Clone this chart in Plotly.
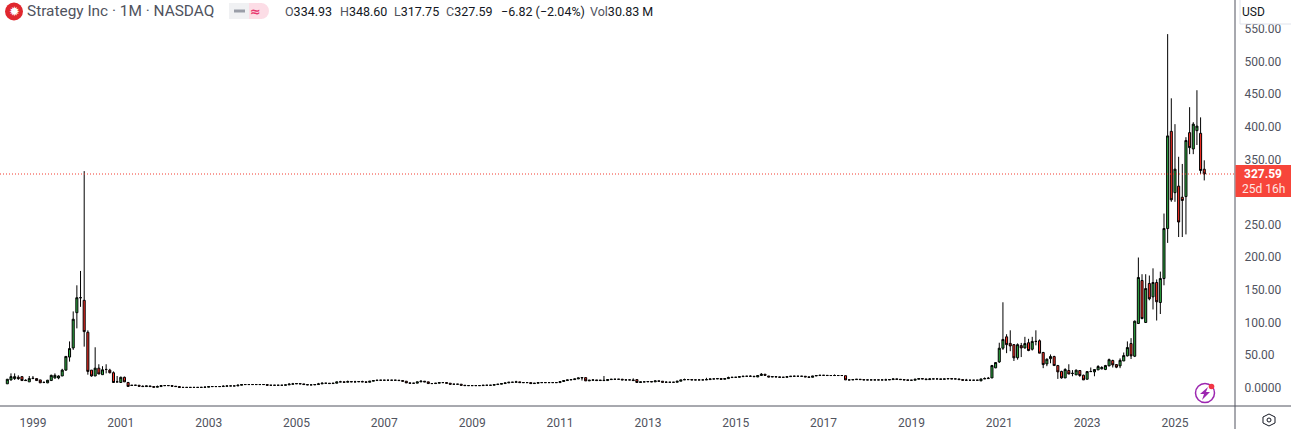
import plotly.graph_objects as go

# Monthly bars, Jun 1998 = index 0 ... Sep 2025 = index 327
start_open = [6,12,14,16,17,11.5,9,14,14,12,8,7.5,11,15,15,18,27,47,61,115,138,134,85,27,18,30,20,28,27,23,9,8,16,8]
start_close = [13,17,17,14,11,11,14,14.5,11,7.5,8,11.5,19,19,18,27,48,60,105,138,138,86,25,18,30,21,27.5,28,23,8,9,16,9,2]
start_high = [13.5,22,22,19,17,13,18,18,14,12,10,12,20,22,19,29,48,71,117,157,179,332,88,27,62,36,33,36,29,25,18,17,17,9]
start_low = [6,11,12,12,11,10.5,9,14,11,7.5,7,7,11,14,13,18,26,40,58,91,124,63,20,17,18,21,20,22,22,8,8.5,8,9,2]

flat_close_a = [3.8,3.8,2.3,1.8,2.8,1.8,0.8,1.8,3.3,3.3,3.3,2.3,1.8,0.5,0.5,0.5,0.5,0.5,0.5,0.6,0.8,1.8,1.8,1.8,1.8,2.3,2.8,2.8,2.8,3.8,4.9,4.9,4.9,4.9,4.9,4.9,4.9,3.8,3.8,3.8,3.8,3.8,4.4,5.4,5.9,6.4,5.9,4.9,4.4,4.4,4.9,5.9,6.9,6.9,6.4,6.9,9,9,8.4,9.5,9,9,9.5,9,8.4,10,11,11.5,11.5,11.5,11.5,11.5,11.5,11,10,7.4,6.9,6.9,9]
flat_open_a = [3.4,3.8,3.8,2.3,1.8,2.8,1.8,0.8,1.8,3.3,3.3,3.3,2.3,1.8,0.5,0.5,0.5,0.5,0.5,0.5,0.6,0.8,1.8,1.8,1.8,1.8,2.3,2.8,2.8,2.8,3.8,4.9,4.9,4.9,4.9,4.9,4.9,4.9,3.8,3.8,3.8,3.8,3.8,4.4,5.4,5.9,6.4,5.9,4.9,4.4,4.4,4.9,5.9,6.9,6.9,6.4,6.9,9,9,8.4,9.5,9,9,9.5,9,8.4,10,11,11.5,11.5,11.5,11.5,11.5,11.5,11,10,7.4,6.9,7]
flat_close_b = [10,9,6.4,6.4,6.9,7.9,7.9,6.9,5.4,5.4,5.4,3.8,3.3,3.3,3.3,3.3,3.3,3.8,3.8,3.8,4.9,5.4,6.4,7.4,8.4,8.4,9,7.9,7.9,7.9,6.4,6.9,7.9,7.9,7.9,7.9,7.9,7.9,9.5,11,12,12.5,13.5,15,15.6,10.5,11.5,12,11,11.5,11,12.5,13,13,13,12,12,12,11,8,9,9,9.5,9,10.5,10,8.4,8.4,8.4,8.4,10,12,12.5,12.5,12,12,12,12,12.5,13.5,13.5,14]
flat_open_b = [9,10,9,6.4,6.4,6.9,7.9,7.9,6.9,5.4,5.4,5.4,3.8,3.3,3.3,3.3,3.3,3.3,3.8,3.8,3.8,4.9,5.4,6.4,7.4,8.4,8.4,9,7.9,7.9,7.9,6.4,6.9,7.9,7.9,7.9,7.9,7.9,7.9,9.5,11,12,12.5,13.5,15,15.5,10.5,11.5,12,11,11.5,11,12.5,13,13,13,12,12,12,12.5,8,9,9,9.5,9,10.5,10,8.4,8.4,8.4,8.4,10,12,12.5,12.5,12,12,12,12,12.5,13.5,13.5]
flat_close_c = [13,14,15.6,16,16,17,17.6,17.6,17.6,17,18.7,20.7,19,16.5,17,16.6,16,16,17,17.6,17.6,17.6,17.6,16.6,16,18,18.7,19,19,18.7,18.7,18.7,18.7,18.7,12,12,12.5,13,12.5,12,12,12,12,12,12,12,12.5,13.5,13,12.5,12,11.5,11.5,13,14,13.5,12.5,13.5,13.5,13.5,13,13.5,14,13.5,13.5,12.5,11.5,11.5,11.5,11.5,11.5,13.5,14,14.5]
flat_open_c = [14,13,14,15.6,16,16,17,17.6,17.6,17.6,16.5,18.7,20.7,18,16.5,17,16.6,16,16,17,17.6,17.6,17.6,17.6,16.6,16,18,18.7,19,19,18.7,18.7,18.7,18.7,18.5,12,12,12.5,13,12.5,12,12,12,12,12,12,12,12.5,13.5,13,12.5,12,11.5,11.5,13,14,13.5,12.5,13.5,13.5,13.5,13,13.5,14,13.5,13.5,12.5,11.5,11.5,11.5,11.5,10.5,13.5,14]
# small wicks that stand out of the flat stretch: month index -> high
flat_wick_tops = {37:3.6,41:3.4,54:2.2,59:3.6,63:5.2,77:7,78:7.4,85:7.4,86:8.2,91:10.6,93:11,95:10.6,97:10.8,
                  113:11.4,121:7,139:10.6,157:11,163:18,166:13.4,168:13.6,171:14.4,180:10,185:14,191:15.2,
                  197:17,203:19,206:22.5,207:21,215:18.5,222:20,226:20.4,240:13.8,252:14.6,262:13.6,267:15.8,268:16.5}

end_open = [15,30.5,39.6,60.6,78,68,66,46,64.6,61,69,59,71,72,54,36.5,44.5,47.8,34,25,15,26.4,22,19.7,26.4,19.2,13,24.8,24.3,27.4,29,28,33.5,41.7,35.5,33.5,41,48.8,67.7,48.3,98.4,164.4,100,159.8,139.3,161.3,130.6,167.4,244,393,299,309,292,293,391,366,394,390,334.93]
end_close = [34,38.6,60.6,74,66,64,45.8,66,61,67.7,57,71,71,53,35.5,43.7,47.8,34,24.3,15,28,21,22,26.9,18.7,12,24.8,24.8,27.9,32.5,31,34,43,35,31.5,42,49.3,61.6,48.8,102,169,106,152,136.3,161.3,131.7,167.4,244,386,288,335,254,287,379,368,404,401,333,327.59]
end_high = [35,39,69,131,82,88,67,68,68.7,78,75,78,88,74,55,45,51,49,35,26,29.9,36,27,28,26.9,20,25,31,28,34.6,33,35,44.7,43,36,45,54,71,76,103,199.6,174,174,172,183,166,178,267,542,443.6,404,354,343,384,430,407,456,414.4,348.6]
end_low = [15,30,38,58,53,56,41,43,47,60,56,57,65,53,30,33,37.5,34,13.5,14,15,21,17.6,19.7,16.7,12,13,24.3,17.6,27,28,27,33,31,30,30,41,48,44,47,98,105,100,134,120,103,113,157,222,285,285,231,231,235,358,358,372,327.5,317.75]

year_labels = ["1999","2001","2003","2005","2007","2009","2011","2013","2015","2017","2019","2021","2023","2025"]
year_positions = [7,31,55,79,103,127,151,175,199,223,247,271,295,319]
price_ticks = [0,50,100,150,200,250,350,400,450,500,550]
price_labels = ["0.0000","50.00","100.00","150.00","200.00","250.00","350.00","400.00","450.00","500.00","550.00"]
last_close = 327.59

flat_open = flat_open_a + flat_open_b + flat_open_c
flat_close = flat_close_a + flat_close_b + flat_close_c
assert len(flat_open) == len(flat_close) == 235, (len(flat_open_a), len(flat_close_a), len(flat_open_b), len(flat_close_b), len(flat_open_c), len(flat_close_c))
flat_high = [max(o, c) for o, c in zip(flat_open, flat_close)]
flat_low = [min(o, c) for o, c in zip(flat_open, flat_close)]
for idx, top in flat_wick_tops.items():
    flat_high[idx - 34] = top

opens = start_open + flat_open + end_open
closes = start_close + flat_close + end_close
highs = start_high + flat_high + end_high
lows = start_low + flat_low + end_low
assert len(opens) == len(closes) == len(highs) == len(lows) == 328, (len(opens), len(closes), len(highs), len(lows))
months = list(range(len(opens)))

GREEN, RED, INK, GREY = "#2fae44", "#fb2f25", "#131722", "#50535e"
PLOT_W, PLOT_H = 1235, 406


def px(x):
    return x / PLOT_W


def py(y):
    return 1 - y / PLOT_H


def box(x0, y0, x1, y1, **kw):
    return dict(type="rect", xref="paper", yref="paper", x0=px(x0), x1=px(x1), y0=py(y1), y1=py(y0), **kw)


def circle(cx, cy, r, **kw):
    return dict(type="circle", xref="paper", yref="paper", x0=px(cx - r), x1=px(cx + r), y0=py(cy + r), y1=py(cy - r), **kw)


def poly(points, **kw):
    d = "M" + " L".join(f"{px(a):.5f},{py(b):.5f}" for a, b in points) + " Z"
    return dict(type="path", xref="paper", yref="paper", path=d, **kw)


def label(x, y, text, size=12, color=INK, anchor="left", font="Roboto"):
    return dict(xref="paper", yref="paper", x=px(x), y=py(y), text=text, showarrow=False, xanchor=anchor,
                yanchor="middle", font=dict(family=font, size=size, color=color), borderpad=0, borderwidth=0)


fig = go.Figure(go.Candlestick(
    x=months, open=opens, high=highs, low=lows, close=closes,
    increasing=dict(line=dict(color="#000000", width=1), fillcolor=GREEN),
    decreasing=dict(line=dict(color="#000000", width=1), fillcolor=RED),
    whiskerwidth=0, hoverinfo="skip", showlegend=False,
))

no_line = dict(width=0)
shapes = [
    dict(type="line", xref="paper", yref="y", x0=0, x1=1, y0=last_close, y1=last_close,
         line=dict(color="#f23b2f", width=1, dash="1px,2px")),
    dict(type="line", xref="paper", yref="paper", x0=1, x1=1, y0=py(429), y1=1, line=dict(color=GREY, width=1)),
    dict(type="line", xref="paper", yref="paper", x0=0, x1=px(1291), y0=0, y1=0, line=dict(color=GREY, width=1)),
    box(1235.5, 165, 1291, 197, fillcolor="#f7453a", line=no_line),
    box(1240, -2, 1293, 24, fillcolor="#ffffff", line=dict(color="#e0e3eb", width=1)),
    circle(14, 11.5, 9, fillcolor="#e0272e", line=no_line),
    box(229, 3, 249, 19, fillcolor="#f0f1f3", line=no_line),
    circle(237, 11, 8, fillcolor="#f0f1f3", line=no_line),
    box(249, 3, 262, 19, fillcolor="#fcdde6", line=no_line),
    circle(261, 11, 8, fillcolor="#fcdde6", line=no_line),
    box(234, 9.5, 245, 12.5, fillcolor="#9a9ea8", line=no_line),
    circle(1205, 393, 9.5, fillcolor="rgba(0,0,0,0)", line=dict(color="#9c27b0", width=1.5)),
    circle(1211.5, 386.5, 2.8, fillcolor="#f23645", line=no_line),
    poly([(1208, 387), (1200, 394), (1204, 394), (1202, 400), (1210, 392), (1206, 392)], fillcolor="#9c27b0", line=no_line),
    poly([(1269, 414), (1275, 417), (1275, 423), (1269, 426), (1263, 423), (1263, 417)], fillcolor="rgba(0,0,0,0)", line=dict(color=INK, width=1)),
    circle(1269, 420, 2, fillcolor="rgba(0,0,0,0)", line=dict(color=INK, width=1)),
]

def ohl(tag, value):
    return f'<span style="color:{GREY}">{tag}</span>{value}'


annotations = [
    label(14, 11.5, "✹", size=13, color="#ffffff", anchor="center", font="DejaVu Sans"),
    label(27, 11, "Strategy Inc · 1M · NASDAQ", size=15.4, color=GREY),
    label(255, 11, "<b>≈</b>", size=13, color="#e8366f", anchor="center", font="DejaVu Sans"),
    label(285, 11, ohl("O", "334.93"), size=12.5),
    label(340, 11, ohl("H", "348.60"), size=12.5),
    label(394, 11, ohl("L", "317.75"), size=12.5),
    label(446, 11, ohl("C", "327.59"), size=12.5),
    label(501, 11, "−6.82 (−2.04%)", size=12.5),
    label(590, 11, ohl("Vol", "30.83 M"), size=12.5),
    label(1253, 12, "USD", size=12, color=INK, anchor="center"),
    label(1263, 174, "<b>327.59</b>", size=12, color="#ffffff", anchor="center"),
    label(1263, 189, "25d 16h", size=12, color="#ffe4e1", anchor="center"),
]

fig.update_layout(
    width=1291, height=429, margin=dict(l=0, r=56, t=0, b=23, pad=0),
    paper_bgcolor="#ffffff", plot_bgcolor="#ffffff", showlegend=False, hovermode=False, boxgap=0.2,
    font=dict(family="Roboto", size=12, color=GREY), shapes=shapes, annotations=annotations,
    xaxis=dict(range=[-2.0, 335.4], rangeslider=dict(visible=False), tickmode="array", tickvals=year_positions,
               ticktext=year_labels, showgrid=False, zeroline=False, showline=False,
               ticks="outside", ticklen=6, tickcolor="rgba(0,0,0,0)",
               tickfont=dict(family="Roboto", size=12, color=GREY)),
    yaxis=dict(range=[-28.0, 594.3], side="right", tickmode="array", tickvals=price_ticks, ticktext=price_labels,
               showgrid=False, zeroline=False, showline=False,
               ticks="outside", ticklen=6, tickcolor="rgba(0,0,0,0)",
               tickfont=dict(family="Roboto", size=12, color=GREY)),
)
fig.write_html("out.html", config=dict(displayModeBar=False),
               post_script="document.body.style.margin='0';document.body.style.overflow='hidden';")
